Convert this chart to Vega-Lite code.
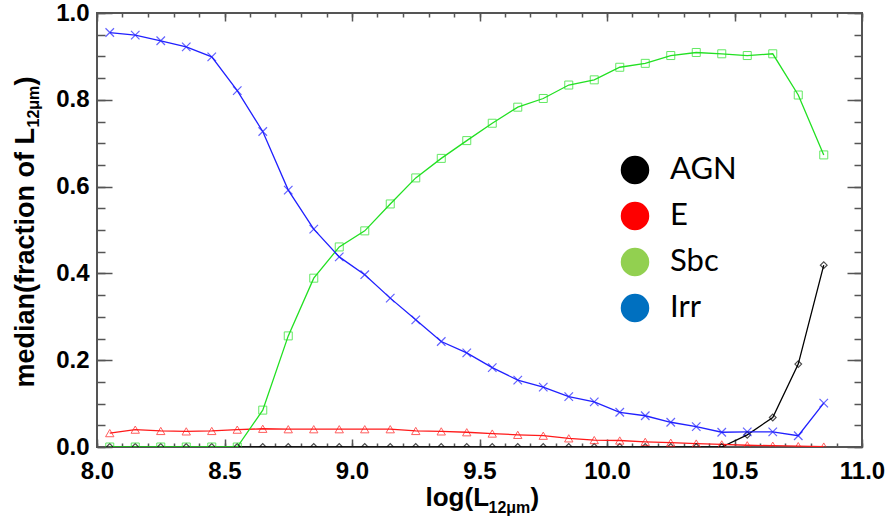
{
  "$schema": "https://vega.github.io/schema/vega-lite/v6.json",
  "width": 765,
  "height": 434,
  "autosize": {"type": "none"},
  "padding": {"left": 97, "top": 13, "right": 28, "bottom": 70},
  "background": "white",
  "config": {
    "view": {"stroke": "#555555", "strokeWidth": 2},
    "axis": {
      "grid": false,
      "domain": false,
      "labelFont": "Liberation Sans",
      "labelFontWeight": "bold",
      "labelFontSize": 24,
      "labelColor": "#000000",
      "labelFlush": false,
      "labelOverlap": false,
      "labelBound": false,
      "titleFont": "Liberation Sans",
      "titleFontWeight": "bold",
      "titleColor": "#000000",
      "tickColor": "#555555",
      "tickWidth": 1.5
    }
  },
  "datasets": {
    "pts": [
      {"x": 8.05, "series": "AGN", "value": 0}, {"x": 8.15, "series": "AGN", "value": 0}, {"x": 8.25, "series": "AGN", "value": 0}, {"x": 8.35, "series": "AGN", "value": 0}, {"x": 8.45, "series": "AGN", "value": 0}, {"x": 8.55, "series": "AGN", "value": 0}, {"x": 8.65, "series": "AGN", "value": 0}, {"x": 8.75, "series": "AGN", "value": 0}, {"x": 8.85, "series": "AGN", "value": 0}, {"x": 8.95, "series": "AGN", "value": 0}, {"x": 9.05, "series": "AGN", "value": 0}, {"x": 9.15, "series": "AGN", "value": 0}, {"x": 9.25, "series": "AGN", "value": 0}, {"x": 9.35, "series": "AGN", "value": 0}, {"x": 9.45, "series": "AGN", "value": 0}, {"x": 9.55, "series": "AGN", "value": 0}, {"x": 9.65, "series": "AGN", "value": 0}, {"x": 9.75, "series": "AGN", "value": 0}, {"x": 9.85, "series": "AGN", "value": 0}, {"x": 9.95, "series": "AGN", "value": 0}, {"x": 10.05, "series": "AGN", "value": 0}, {"x": 10.15, "series": "AGN", "value": 0}, {"x": 10.25, "series": "AGN", "value": 0}, {"x": 10.35, "series": "AGN", "value": 0}, {"x": 10.45, "series": "AGN", "value": 0}, {"x": 10.55, "series": "AGN", "value": 0.028}, {"x": 10.65, "series": "AGN", "value": 0.068}, {"x": 10.75, "series": "AGN", "value": 0.191}, {"x": 10.85, "series": "AGN", "value": 0.419},
      {"x": 8.05, "series": "E", "value": 0.032}, {"x": 8.15, "series": "E", "value": 0.040}, {"x": 8.25, "series": "E", "value": 0.037}, {"x": 8.35, "series": "E", "value": 0.036}, {"x": 8.45, "series": "E", "value": 0.037}, {"x": 8.55, "series": "E", "value": 0.040}, {"x": 8.65, "series": "E", "value": 0.042}, {"x": 8.75, "series": "E", "value": 0.041}, {"x": 8.85, "series": "E", "value": 0.041}, {"x": 8.95, "series": "E", "value": 0.041}, {"x": 9.05, "series": "E", "value": 0.041}, {"x": 9.15, "series": "E", "value": 0.041}, {"x": 9.25, "series": "E", "value": 0.037}, {"x": 9.35, "series": "E", "value": 0.036}, {"x": 9.45, "series": "E", "value": 0.034}, {"x": 9.55, "series": "E", "value": 0.031}, {"x": 9.65, "series": "E", "value": 0.028}, {"x": 9.75, "series": "E", "value": 0.026}, {"x": 9.85, "series": "E", "value": 0.020}, {"x": 9.95, "series": "E", "value": 0.016}, {"x": 10.05, "series": "E", "value": 0.015}, {"x": 10.15, "series": "E", "value": 0.012}, {"x": 10.25, "series": "E", "value": 0.010}, {"x": 10.35, "series": "E", "value": 0.008}, {"x": 10.45, "series": "E", "value": 0.006}, {"x": 10.55, "series": "E", "value": 0.004}, {"x": 10.65, "series": "E", "value": 0.003}, {"x": 10.75, "series": "E", "value": 0.002}, {"x": 10.85, "series": "E", "value": 0.001},
      {"x": 8.05, "series": "Sbc", "value": 0}, {"x": 8.15, "series": "Sbc", "value": 0}, {"x": 8.25, "series": "Sbc", "value": 0}, {"x": 8.35, "series": "Sbc", "value": 0}, {"x": 8.45, "series": "Sbc", "value": 0}, {"x": 8.55, "series": "Sbc", "value": 0}, {"x": 8.65, "series": "Sbc", "value": 0.085}, {"x": 8.75, "series": "Sbc", "value": 0.256}, {"x": 8.85, "series": "Sbc", "value": 0.389}, {"x": 8.95, "series": "Sbc", "value": 0.461}, {"x": 9.05, "series": "Sbc", "value": 0.498}, {"x": 9.15, "series": "Sbc", "value": 0.56}, {"x": 9.25, "series": "Sbc", "value": 0.62}, {"x": 9.35, "series": "Sbc", "value": 0.665}, {"x": 9.45, "series": "Sbc", "value": 0.706}, {"x": 9.55, "series": "Sbc", "value": 0.746}, {"x": 9.65, "series": "Sbc", "value": 0.783}, {"x": 9.75, "series": "Sbc", "value": 0.803}, {"x": 9.85, "series": "Sbc", "value": 0.834}, {"x": 9.95, "series": "Sbc", "value": 0.846}, {"x": 10.05, "series": "Sbc", "value": 0.875}, {"x": 10.15, "series": "Sbc", "value": 0.884}, {"x": 10.25, "series": "Sbc", "value": 0.902}, {"x": 10.35, "series": "Sbc", "value": 0.909}, {"x": 10.45, "series": "Sbc", "value": 0.906}, {"x": 10.55, "series": "Sbc", "value": 0.902}, {"x": 10.65, "series": "Sbc", "value": 0.906}, {"x": 10.75, "series": "Sbc", "value": 0.811}, {"x": 10.85, "series": "Sbc", "value": 0.673},
      {"x": 8.05, "series": "Irr", "value": 0.955}, {"x": 8.15, "series": "Irr", "value": 0.949}, {"x": 8.25, "series": "Irr", "value": 0.936}, {"x": 8.35, "series": "Irr", "value": 0.922}, {"x": 8.45, "series": "Irr", "value": 0.899}, {"x": 8.55, "series": "Irr", "value": 0.821}, {"x": 8.65, "series": "Irr", "value": 0.727}, {"x": 8.75, "series": "Irr", "value": 0.592}, {"x": 8.85, "series": "Irr", "value": 0.502}, {"x": 8.95, "series": "Irr", "value": 0.438}, {"x": 9.05, "series": "Irr", "value": 0.397}, {"x": 9.15, "series": "Irr", "value": 0.343}, {"x": 9.25, "series": "Irr", "value": 0.293}, {"x": 9.35, "series": "Irr", "value": 0.243}, {"x": 9.45, "series": "Irr", "value": 0.217}, {"x": 9.55, "series": "Irr", "value": 0.183}, {"x": 9.65, "series": "Irr", "value": 0.154}, {"x": 9.75, "series": "Irr", "value": 0.138}, {"x": 9.85, "series": "Irr", "value": 0.116}, {"x": 9.95, "series": "Irr", "value": 0.104}, {"x": 10.05, "series": "Irr", "value": 0.080}, {"x": 10.15, "series": "Irr", "value": 0.072}, {"x": 10.25, "series": "Irr", "value": 0.057}, {"x": 10.35, "series": "Irr", "value": 0.047}, {"x": 10.45, "series": "Irr", "value": 0.034}, {"x": 10.55, "series": "Irr", "value": 0.035}, {"x": 10.65, "series": "Irr", "value": 0.035}, {"x": 10.75, "series": "Irr", "value": 0.026}, {"x": 10.85, "series": "Irr", "value": 0.101}
    ]
  },
  "data": {"name": "pts"},
  "resolve": {"axis": {"x": "independent", "y": "independent"}},
  "layer": [
    {
      "mark": {"type": "line", "clip": true, "strokeWidth": 1.3},
      "encoding": {
        "x": {"field": "x", "type": "quantitative", "scale": {"domain": [8, 11], "nice": false, "zero": false},
          "axis": {"orient": "bottom", "values": [8, 8.5, 9, 9.5, 10, 10.5, 11], "format": ".1f", "ticks": false, "tickSize": 0, "labelPadding": 12,
            "title": "log(L", "titleFontSize": 26, "titleX": 328, "titleY": 58, "titleAlign": "left", "titleBaseline": "alphabetic"}},
        "y": {"field": "value", "type": "quantitative", "scale": {"domain": [0, 1], "nice": false, "zero": false},
          "axis": {"orient": "left", "values": [0, 0.2, 0.4, 0.6, 0.8, 1.0], "format": ".1f", "ticks": false, "tickSize": 0, "labelPadding": 8,
            "title": "median(fraction of L", "titleFontSize": 27, "titleAngle": -90, "titleX": -64, "titleY": 374, "titleAlign": "left", "titleBaseline": "alphabetic"}},
        "color": {"field": "series", "type": "nominal", "legend": null,
          "scale": {"domain": ["Irr", "Sbc", "E", "AGN"], "range": ["#2020ff", "#22e022", "#ff1a1a", "#000000"]}},
        "order": {"field": "x", "type": "quantitative"}
      }
    },
    {
      "transform": [{"filter": "datum.series === 'AGN'"}],
      "mark": {"type": "point", "shape": "diamond", "filled": false, "size": 45, "strokeWidth": 1.2, "color": "#000000", "clip": true},
      "encoding": {
        "x": {"field": "x", "type": "quantitative", "scale": {"domain": [8, 11], "nice": false, "zero": false},
          "axis": {"orient": "bottom", "values": [8, 8.5, 9, 9.5, 10, 10.5, 11], "labels": false, "tickSize": 8, "offset": -8,
            "title": "12μm", "titleFontSize": 16, "titleX": 391, "titleY": 73, "titleAlign": "left", "titleBaseline": "alphabetic"}},
        "y": {"field": "value", "type": "quantitative", "scale": {"domain": [0, 1], "nice": false, "zero": false},
          "axis": {"orient": "left", "values": [0, 0.2, 0.4, 0.6, 0.8, 1.0], "labels": false, "tickSize": 15, "offset": -15,
            "title": "12μm", "titleFontSize": 16, "titleAngle": -90, "titleX": -74, "titleY": 114, "titleAlign": "left", "titleBaseline": "alphabetic"}}
      }
    },
    {
      "transform": [{"filter": "datum.series === 'E'"}],
      "mark": {"type": "point", "shape": "triangle-up", "filled": false, "size": 70, "strokeWidth": 1, "color": "#ff1a1a", "clip": true},
      "encoding": {
        "x": {"field": "x", "type": "quantitative", "scale": {"domain": [8, 11], "nice": false, "zero": false},
          "axis": {"orient": "bottom", "values": [8, 8.1, 8.2, 8.3, 8.4, 8.5, 8.6, 8.7, 8.8, 8.9, 9, 9.1, 9.2, 9.3, 9.4, 9.5, 9.6, 9.7, 9.8, 9.9, 10, 10.1, 10.2, 10.3, 10.4, 10.5, 10.6, 10.7, 10.8, 10.9, 11], "labels": false, "tickSize": 4, "offset": -4,
            "title": ")", "titleFontSize": 26, "titleX": 433, "titleY": 62, "titleAlign": "left", "titleBaseline": "alphabetic"}},
        "y": {"field": "value", "type": "quantitative", "scale": {"domain": [0, 1], "nice": false, "zero": false},
          "axis": {"orient": "left", "values": [0, 0.05, 0.1, 0.15, 0.2, 0.25, 0.3, 0.35, 0.4, 0.45, 0.5, 0.55, 0.6, 0.65, 0.7, 0.75, 0.8, 0.85, 0.9, 0.95, 1.0], "labels": false, "tickSize": 8, "offset": -8,
            "title": ")", "titleFontSize": 27, "titleAngle": -90, "titleX": -72, "titleY": 72, "titleAlign": "left", "titleBaseline": "alphabetic"}}
      }
    },
    {
      "transform": [{"filter": "datum.series === 'Sbc'"}],
      "mark": {"type": "point", "shape": "square", "filled": false, "size": 64, "strokeWidth": 1, "color": "#22e022", "clip": true},
      "encoding": {
        "x": {"field": "x", "type": "quantitative", "scale": {"domain": [8, 11], "nice": false, "zero": false},
          "axis": {"orient": "top", "values": [8, 8.5, 9, 9.5, 10, 10.5, 11], "labels": false, "tickSize": 8, "offset": -8, "title": null}},
        "y": {"field": "value", "type": "quantitative", "scale": {"domain": [0, 1], "nice": false, "zero": false},
          "axis": {"orient": "right", "values": [0, 0.2, 0.4, 0.6, 0.8, 1.0], "labels": false, "tickSize": 15, "offset": -15, "title": null}}
      }
    },
    {
      "transform": [{"filter": "datum.series === 'Irr'"}],
      "mark": {"type": "point", "shape": "M-1,-1L1,1M1,-1L-1,1", "filled": false, "size": 72, "strokeWidth": 1.2, "color": "#2020ff", "clip": true},
      "encoding": {
        "x": {"field": "x", "type": "quantitative", "scale": {"domain": [8, 11], "nice": false, "zero": false},
          "axis": {"orient": "top", "values": [8, 8.1, 8.2, 8.3, 8.4, 8.5, 8.6, 8.7, 8.8, 8.9, 9, 9.1, 9.2, 9.3, 9.4, 9.5, 9.6, 9.7, 9.8, 9.9, 10, 10.1, 10.2, 10.3, 10.4, 10.5, 10.6, 10.7, 10.8, 10.9, 11], "labels": false, "tickSize": 4, "offset": -4, "title": null}},
        "y": {"field": "value", "type": "quantitative", "scale": {"domain": [0, 1], "nice": false, "zero": false},
          "axis": {"orient": "right", "values": [0, 0.05, 0.1, 0.15, 0.2, 0.25, 0.3, 0.35, 0.4, 0.45, 0.5, 0.55, 0.6, 0.65, 0.7, 0.75, 0.8, 0.85, 0.9, 0.95, 1.0], "labels": false, "tickSize": 8, "offset": -8, "title": null}}
      }
    },
    {
      "transform": [{"filter": "datum.x === 8.05"}],
      "mark": {"type": "point", "filled": true, "size": 0, "clip": true},
      "encoding": {
        "x": {"field": "x", "type": "quantitative", "scale": {"domain": [8, 11], "nice": false, "zero": false}, "axis": null},
        "y": {"field": "value", "type": "quantitative", "scale": {"domain": [0, 1], "nice": false, "zero": false}, "axis": null},
        "fill": {"field": "series", "type": "nominal",
          "scale": {"domain": ["AGN", "E", "Sbc", "Irr"], "range": ["#000000", "#fe0000", "#92d050", "#0070c0"]},
          "legend": {"orient": "none", "legendX": 521, "legendY": 140, "title": null, "padding": 0,
            "symbolType": "circle", "symbolSize": 961, "symbolOpacity": 1, "symbolStrokeColor": "#ffffff", "symbolStrokeWidth": 2.5,
            "labelFont": "Lato", "labelFontSize": 31, "labelColor": "#000000", "labelOffset": 18, "rowPadding": 4}}
      }
    }
  ]
}
